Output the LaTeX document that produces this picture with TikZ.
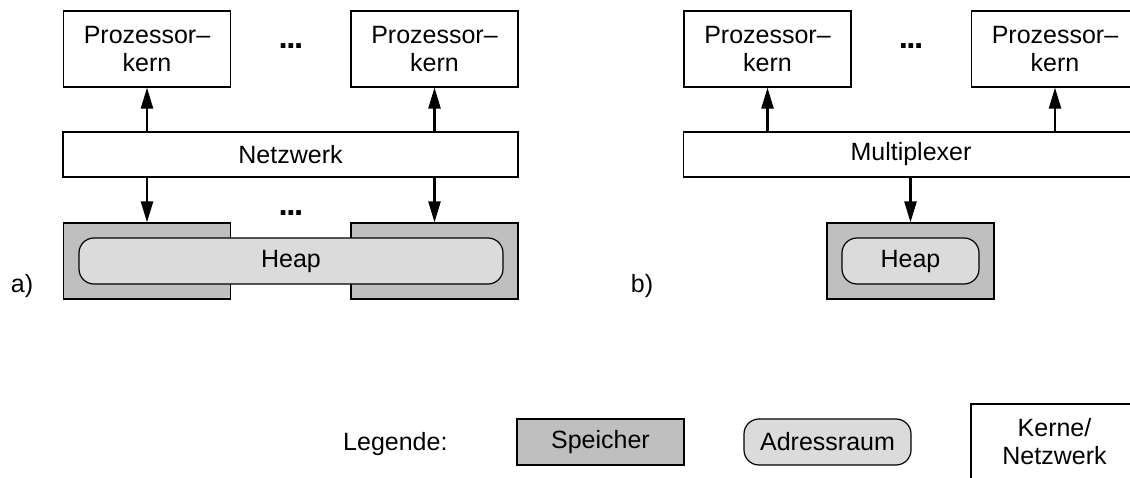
\documentclass[tikz,border=0pt]{standalone}
\usepackage{fontspec}
\setmainfont{Liberation Sans}
\usetikzlibrary{arrows.meta}
\definecolor{memgray}{gray}{0.75}
\definecolor{heapgray}{gray}{0.86}
\begin{document}
\begin{tikzpicture}[x=1pt,y=-1pt,
  every node/.style={font=\fontsize{25}{28}\selectfont, inner sep=0pt, align=center},
  corebox/.style={draw, line width=1.2pt, fill=white, minimum width=167pt, minimum height=76pt},
  membox/.style={draw, line width=1.2pt, fill=memgray, minimum width=167pt, minimum height=76pt},
  spacebox/.style={draw, line width=1.2pt, fill=heapgray, rounded corners=15pt, minimum height=46pt},
  busbox/.style={draw, line width=1.2pt, fill=white, minimum width=455pt, minimum height=45pt},
  ellipsisdots/.style={anchor=base, font=\fontsize{33}{33}\selectfont\bfseries},
  link/.style={line width=2.4pt, -{Triangle[length=21pt,width=12pt]}}]
\useasboundingbox (0,0) rectangle (1130,478);
\clip (0,0) rectangle (1130,478);

% a) distributed memory, one shared heap
\node[membox] (m1) at (147,261) {};
\node[membox] (m2) at (434.5,261) {};
\node[spacebox, minimum width=424pt] (h1) at (291,261) {Heap};
\node[corebox] (p1) at (147,49) {Prozessor–\\kern};
\node[corebox] (p2) at (434.5,49) {Prozessor–\\kern};
\node[busbox] (net) at (290.5,154.5) {Netzwerk};
\node[ellipsisdots] (d1) at (291,49) {.\kern-1.5pt.\kern-1.5pt.};
\node[ellipsisdots] (d2) at (291,216) {.\kern-1.5pt.\kern-1.5pt.};
\node[anchor=base] (la) at (22,293) {a)};
\draw[link] (p1.south |- net.north) -- (p1.south);
\draw[link] (p2.south |- net.north) -- (p2.south);
\draw[link] (m1.north |- net.south) -- (m1.north);
\draw[link] (m2.north |- net.south) -- (m2.north);

% b) single memory behind a multiplexer
\node[membox] (m3) at (910.5,261) {};
\node[spacebox, minimum width=137pt] (h2) at (910.5,261) {Heap};
\node[corebox] (p3) at (767.5,49) {Prozessor–\\kern};
\node[corebox] (p4) at (1055,49) {Prozessor–\\kern};
\node[busbox] (mux) at (911,154.5) {Multiplexer};
\node[ellipsisdots] (d3) at (911,49) {.\kern-1.5pt.\kern-1.5pt.};
\node[anchor=base] (lb) at (642,293) {b)};
\draw[link] (p3.south |- mux.north) -- (p3.south);
\draw[link] (p4.south |- mux.north) -- (p4.south);
\draw[link] (m3.north |- mux.south) -- (m3.north);

% legend
\node[anchor=base west] (lg) at (343,450) {Legende:};
\node[membox, minimum height=46pt] (ls) at (600.5,442) {Speicher};
\node[spacebox, minimum width=167pt] (lr) at (827.5,442) {Adressraum};
\node[corebox] (lk) at (1054.5,442) {Kerne/\\Netzwerk};
\end{tikzpicture}
\end{document}
